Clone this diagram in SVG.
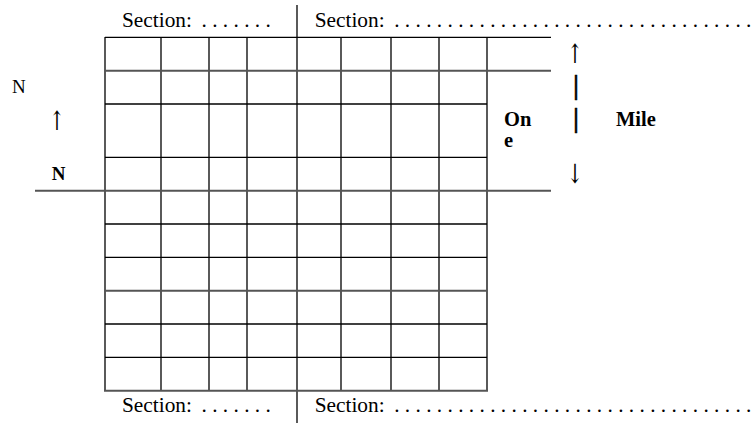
<svg xmlns="http://www.w3.org/2000/svg" width="752" height="424" viewBox="0 0 752 424">
<style>
.t{font-family:"Liberation Serif","Times New Roman",serif;fill:#000}
.sec{font-size:21.33px}
.lab{font-size:19px}
.b{font-weight:bold;font-size:20.5px}
.ar{font-family:"DejaVu Serif","DejaVu Sans",serif;font-size:19px;fill:#000}
.bar{font-family:"Liberation Serif","Times New Roman",serif;font-weight:bold;font-size:27px;fill:#000;stroke:#000;stroke-width:0.4}
.k{stroke:#000;stroke-width:1.3;fill:none}
.g{stroke:#555;stroke-width:2;fill:none}
</style>
<rect width="752" height="424" fill="#fff"/>
<g id="grid">
<g id="verticals" class="k">
<line x1="105" y1="37" x2="105" y2="391"/>
<line x1="161" y1="37" x2="161" y2="391"/>
<line x1="209" y1="37" x2="209" y2="391"/>
<line x1="247" y1="37" x2="247" y2="391"/>
<line x1="297" y1="5" x2="297" y2="423"/>
<line x1="341" y1="37" x2="341" y2="391"/>
<line x1="391" y1="37" x2="391" y2="391"/>
<line x1="439" y1="37" x2="439" y2="391"/>
<line x1="487" y1="37" x2="487" y2="391"/>
</g>
<g id="rows-black" class="k">
<line x1="105" y1="37.3" x2="551" y2="37.3"/>
<line x1="105" y1="104" x2="487" y2="104"/>
<line x1="105" y1="157.3" x2="487" y2="157.3"/>
<line x1="105" y1="224" x2="487" y2="224"/>
<line x1="105" y1="257.3" x2="487" y2="257.3"/>
<line x1="105" y1="324" x2="487" y2="324"/>
<line x1="105" y1="357.3" x2="487" y2="357.3"/>
</g>
<g id="rows-gray" class="g">
<line x1="105" y1="70.7" x2="551" y2="70.7"/>
<line x1="35" y1="190.7" x2="551" y2="190.7"/>
<line x1="105" y1="290.7" x2="487" y2="290.7"/>
<line x1="104" y1="390.7" x2="488" y2="390.7"/>
</g>
</g>
<g id="section-top-left"><text class="t sec" x="122" y="27">Section:<tspan x="201.5">. . . . . . .</tspan></text></g>
<g id="section-top-right"><text class="t sec" x="314.7" y="27">Section:<tspan x="394.2">. . . . . . . . . . . . . . . . . . . . . . . . . . . . . . . . . .</tspan></text></g>
<g id="section-bottom-left"><text class="t sec" x="122" y="412">Section:<tspan x="201.5">. . . . . . .</tspan></text></g>
<g id="section-bottom-right"><text class="t sec" x="314.7" y="412">Section:<tspan x="394.2">. . . . . . . . . . . . . . . . . . . . . . . . . . . . . . . . . .</tspan></text></g>
<g id="north">
<text class="t lab" x="12" y="93">N</text>
<text class="ar" transform="translate(57,130) scale(1,1.4)" text-anchor="middle">↑</text>
<text class="t lab" x="51.7" y="180" font-weight="bold">N</text>
</g>
<g id="one-mile">
<text class="t b" x="504" y="126">On</text>
<text class="t b" x="504" y="147">e</text>
<text class="ar" transform="translate(575,63) scale(1,1.4)" text-anchor="middle">↑</text>
<text class="bar" x="576" y="94" text-anchor="middle">|</text>
<text class="bar" x="576" y="127" text-anchor="middle">|</text>
<text class="ar" transform="translate(575,183) scale(1,1.4)" text-anchor="middle">↓</text>
<text class="t b" x="616" y="126">Mile</text>
</g>
</svg>
